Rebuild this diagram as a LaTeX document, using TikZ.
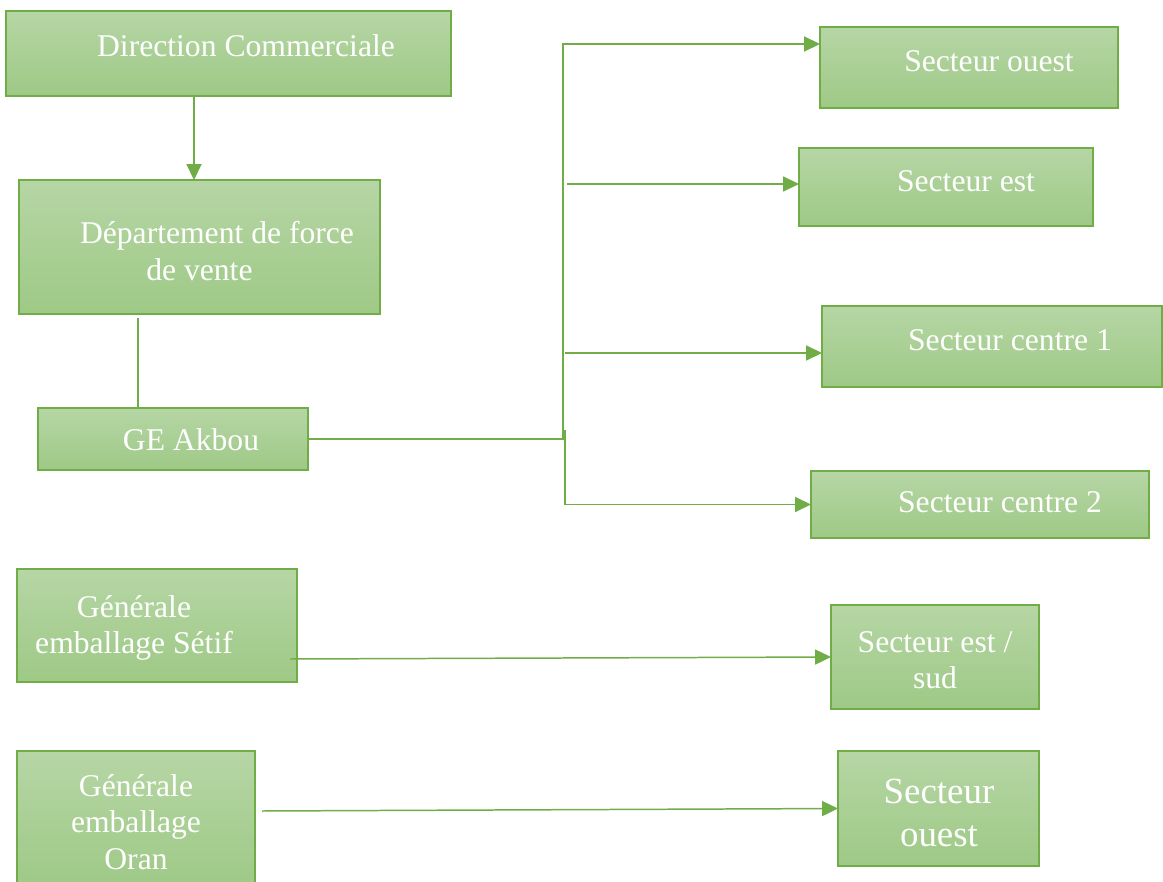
\documentclass[tikz,border=0pt]{standalone}
\usepackage{fontspec}
\setmainfont{Liberation Serif}
\usetikzlibrary{arrows.meta,fit}
\definecolor{boxtop}{RGB}{182,214,165}
\definecolor{boxbot}{RGB}{158,201,134}
\definecolor{boxedge}{RGB}{112,173,71}
\tikzset{
  box/.style={draw=boxedge, line width=0.8pt, top color=boxtop, bottom color=boxbot, inner sep=0pt, outer sep=0pt},
  lbl/.style={text=white, align=center, inner sep=0pt, font=\fontsize{18}{20.7}\selectfont},
  conn/.style={draw=boxedge, line width=0.85pt},
  arr/.style={conn, -{Triangle[length=9pt,width=8.5pt]}}
}
\begin{document}
\begin{tikzpicture}[x=0.02cm, y=-0.02cm]
  \useasboundingbox (0,0) rectangle (1163,882);
  % left column
  \node[box, fit={(6,11) (451,96)}] (dircom) {};
  \node[box, fit={(19,180) (380,314)}] (dept) {};
  \node[box, fit={(38,408) (308,470)}] (ge) {};
  \node[box, fit={(17,569) (297,682)}] (setif) {};
  \node[box, fit={(17,751) (255,890)}] (oran) {};
  % right column
  \node[box, fit={(820,27) (1118,108)}] (secw) {};
  \node[box, fit={(799,148) (1093,226)}] (sece) {};
  \node[box, fit={(822,306) (1162,387)}] (secca) {};
  \node[box, fit={(811,471) (1149,538)}] (seccb) {};
  \node[box, fit={(831,605) (1039,709)}] (secsud) {};
  \node[box, fit={(838,751) (1039,866)}] (secwb) {};
  % labels
  \node[lbl] (dircomtxt) at (246,46) {Direction Commerciale};
  \node[lbl] (depttxt) at (217,251) {Département de force\\\hspace*{-20pt}de vente};
  \node[lbl] (getxt) at (191,440) {GE Akbou};
  \node[lbl] (setiftxt) at (134,628) {Générale\\emballage Sétif};
  \node[lbl] (orantxt) at (136,822) {Générale\\emballage\\Oran};
  \node[lbl] (secwtxt) at (989,61) {Secteur ouest};
  \node[lbl] (secetxt) at (966,181) {Secteur est};
  \node[lbl] (seccatxt) at (1010,340) {Secteur centre 1};
  \node[lbl] (seccbtxt) at (1000,502) {Secteur centre 2};
  \node[lbl] (secsudtxt) at (935,660) {Secteur est /\\sud};
  \node[lbl, font=\fontsize{21}{24.4}\selectfont] (secwbtxt) at (939,813) {Secteur\\ouest};
  % connectors
  \coordinate (dcdrop) at (194,96);
  \coordinate (deptstub) at (138,318);
  \coordinate (ttop) at (563,44);
  \coordinate (tlow) at (565,430);
  \coordinate (best) at (567,184);
  \coordinate (bca) at (565,353);
  \coordinate (setifout) at (290,659);
  \coordinate (oranout) at (262,811);
  \draw[arr] (dcdrop) -- (dcdrop |- dept.north);
  \draw[conn] (deptstub) -- (deptstub |- ge.north);
  \draw[arr] (ge.east) -| (ttop) -- (ttop -| secw.west);
  \draw[arr] (tlow) |- (seccb.west);
  \draw[arr] (best) -- (best -| sece.west);
  \draw[arr] (bca) -- (bca -| secca.west);
  \draw[arr] (setifout) -- (secsud.west);
  \draw[arr] (oranout) -- (secwb.west);
\end{tikzpicture}
\end{document}
